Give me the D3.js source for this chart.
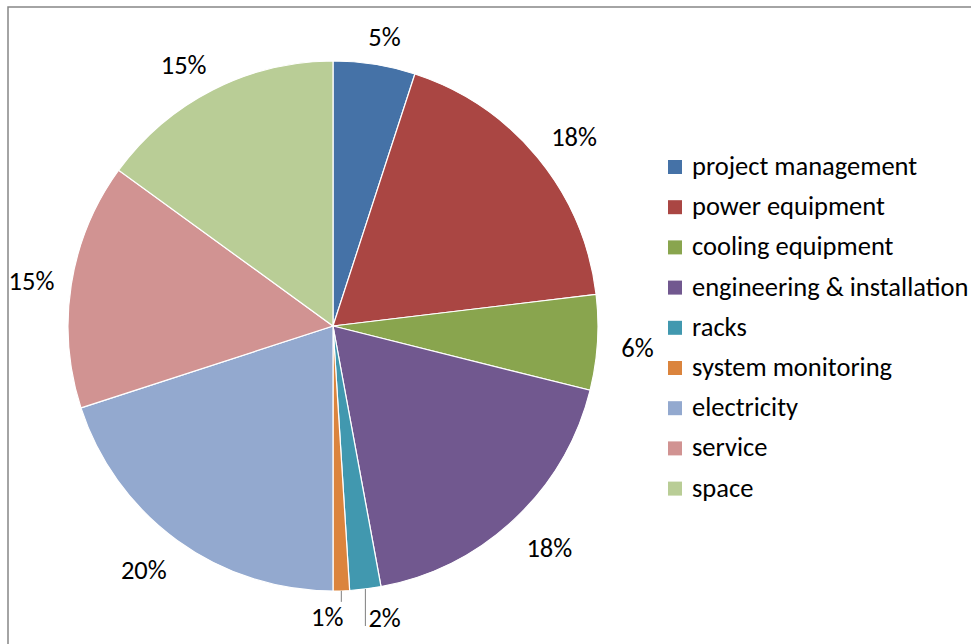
<!DOCTYPE html>
<html>
<head>
<meta charset="utf-8">
<script src="https://cdn.jsdelivr.net/npm/d3@7"></script>
<style>
  body { margin: 0; background: #fff; }
  text { font-family: Carlito, Lato, sans-serif; fill: #000; }
</style>
</head>
<body>
<div id="chart"></div>
<script>
// Datos del gráfico
const categorias = ["project management", "power equipment", "cooling equipment",
  "engineering & installation", "racks", "system monitoring", "electricity", "service", "space"];
const valores = [5.0, 18.1, 5.8, 18.2, 1.9, 1.0, 20.0, 15.0, 15.0];
const etiquetas = ["5%", "18%", "6%", "18%", "2%", "1%", "20%", "15%", "15%"];
const colores = ["#4572A7", "#AA4643", "#89A54E", "#71588F", "#4198AF",
  "#DB843D", "#93A9CF", "#D19392", "#B9CD96"];

const width = 971;
const height = 644;
const cx = 333, cy = 326, radio = 265;

const svg = d3.select("#chart")
  .append("svg")
  .attr("width", width)
  .attr("height", height);

// Marco del área del gráfico
svg.append("rect")
  .attr("x", 8).attr("y", 7)
  .attr("width", width).attr("height", height)
  .attr("fill", "none")
  .attr("stroke", "#878787")
  .attr("stroke-width", 1.5);

const pie = d3.pie().sort(null).value(d => d);
const arcos = pie(valores);

const arc = d3.arc().innerRadius(0).outerRadius(radio);

const g = svg.append("g").attr("transform", `translate(${cx},${cy})`);

// Sectores
g.selectAll("path")
  .data(arcos)
  .enter()
  .append("path")
  .attr("d", arc)
  .attr("fill", (d, i) => colores[i])
  .attr("stroke", "#fff")
  .attr("stroke-width", 1.2);

// Etiquetas de porcentaje
const fs = 26.5;
const clamp = v => Math.max(-1, Math.min(1, v));

arcos.forEach((d, i) => {
  const a = (d.startAngle + d.endAngle) / 2;
  const s = Math.sin(a), c = -Math.cos(a);
  if (d.value < 3) {
    // sectores pequeños: línea guía vertical hacia abajo
    const x0 = s * radio, y0 = c * radio;
    const largo = i === 5 ? 11 : 37;
    g.append("line")
      .attr("x1", x0).attr("y1", y0)
      .attr("x2", x0).attr("y2", y0 + largo)
      .attr("stroke", "#7f7f7f")
      .attr("stroke-width", 1);
    const t = g.append("text")
      .attr("font-size", fs)
      .text(etiquetas[i]);
    if (i === 5) {
      t.attr("x", x0 + 2).attr("y", y0 + 35).attr("text-anchor", "end");
    } else {
      t.attr("x", x0 + 3).attr("y", y0 + largo + 1).attr("text-anchor", "start");
    }
    return;
  }
  const rr = radio + 16;
  const px = s * rr + 24 * clamp(s * 2);
  const py = c * rr + 14 * clamp(c * 2) + 3;
  g.append("text")
    .attr("x", px)
    .attr("y", py)
    .attr("text-anchor", "middle")
    .attr("dominant-baseline", "central")
    .attr("font-size", fs)
    .text(etiquetas[i]);
});

// Leyenda
const leyenda = svg.append("g").attr("transform", "translate(668,160)");
const item = leyenda.selectAll("g")
  .data(categorias)
  .enter()
  .append("g")
  .attr("transform", (d, i) => `translate(0,${i * 40.2})`);

item.append("rect")
  .attr("width", 14).attr("height", 14)
  .attr("fill", (d, i) => colores[i]);

item.append("text")
  .attr("x", 24)
  .attr("y", 6)
  .attr("dominant-baseline", "central")
  .attr("font-size", fs)
  .text(d => d);
</script>
</body>
</html>
